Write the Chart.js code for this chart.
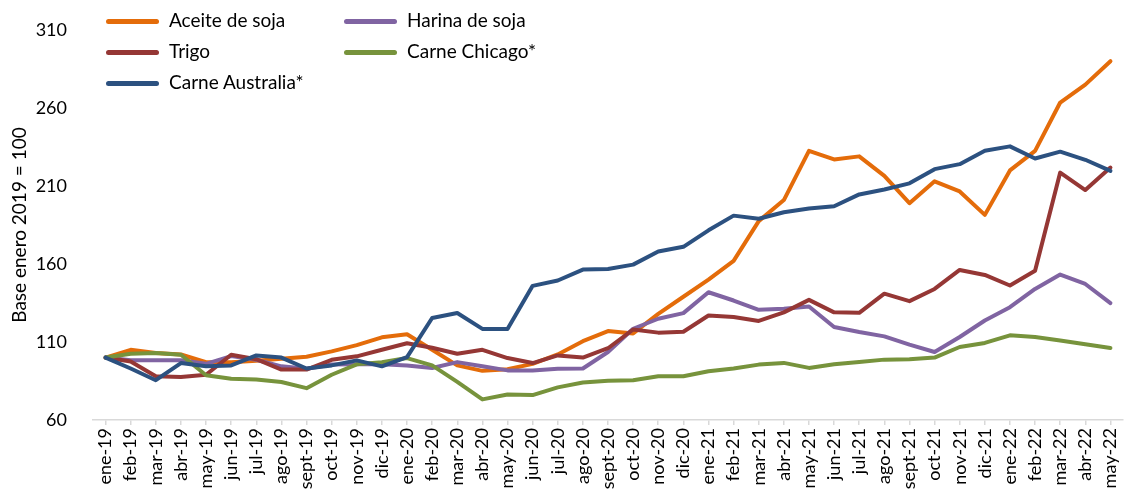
<!DOCTYPE html>
<html lang="es">
<head>
<meta charset="utf-8">
<title>Precios de alimentos</title>
<script src="https://cdn.jsdelivr.net/npm/chart.js@4/dist/chart.umd.min.js"></script>
<style>
  body { margin: 0; background: #fff; }
  #wrap { position: relative; width: 1124px; height: 498px; }
  #chart { position: absolute; left: 0; top: 0; }
  .leg { position: absolute; font-family: Lato, "Noto Sans", sans-serif; font-size: 19px; color: #000; }
  .leg .ln { position: absolute; width: 53px; height: 5px; border-radius: 3px; }
  .leg .tx { position: absolute; white-space: nowrap; line-height: 20px; }
</style>
</head>
<body>
<div id="wrap">
  <canvas id="chart" width="1124" height="498"></canvas>
  <div id="legend"></div>
</div>
<script>
// meses ene-19 .. may-22
const labels = [
  'ene-19', 'feb-19', 'mar-19', 'abr-19', 'may-19', 'jun-19', 'jul-19', 'ago-19', 'sept-19', 'oct-19', 'nov-19', 'dic-19',
  'ene-20', 'feb-20', 'mar-20', 'abr-20', 'may-20', 'jun-20', 'jul-20', 'ago-20', 'sept-20', 'oct-20', 'nov-20', 'dic-20',
  'ene-21', 'feb-21', 'mar-21', 'abr-21', 'may-21', 'jun-21', 'jul-21', 'ago-21', 'sept-21', 'oct-21', 'nov-21', 'dic-21',
  'ene-22', 'feb-22', 'mar-22', 'abr-22', 'may-22'
];

const aceiteSoja = [
  100, 105, 103, 102, 97, 97, 98, 99.3, 100.5, 104, 108, 113,
  115, 105, 95, 91.5, 92.5, 96, 102, 110.5, 117, 115.5, 128, 139,
  150, 162, 187.5, 201, 232.5, 227, 229, 216.5, 199, 213, 206.5, 191.5,
  220, 232.5, 263.5, 275, 290
];
const trigo = [
  100, 97.5, 88, 87.6, 89, 101.8, 99, 92.3, 92.3, 98.6, 100.8, 105,
  109.2, 106.3, 102.5, 105, 99.7, 96.5, 101.4, 100, 106, 118, 116, 116.6,
  127, 126, 123.5, 129, 137, 129, 128.7, 141, 136.2, 144, 156.2, 153,
  146.2, 155.7, 218.6, 207.4, 221.8
];
const carneAustralia = [
  100, 93, 85.5, 96.5, 94.4, 95, 101.4, 100, 93, 95, 98.2, 94.4,
  100.3, 125.4, 128.6, 118.4, 118.4, 146, 149.4, 156.4, 156.8, 159.6, 168, 171,
  181.6, 191, 189, 193.2, 195.6, 197, 204.6, 207.8, 211.7, 220.8, 224, 232.6,
  235.4, 227.6, 232, 226.8, 219.7
];
const harinaSoja = [
  100, 98.3, 98.3, 98.3, 96, 101, 98.6, 94.4, 92.8, 95.6, 95.7, 95.7,
  95, 93.3, 97.1, 94.4, 91.8, 91.8, 92.8, 93, 103.6, 118.5, 124.9, 128.5,
  141.9, 136.6, 130.6, 131.3, 132.8, 119.6, 116.4, 113.6, 108.3, 103.6, 113.2, 123.8,
  132.3, 144, 153.2, 147.2, 134.9
];
const carneChicago = [
  100, 102.5, 103, 101.8, 88.7, 86.5, 86, 84.4, 80.4, 89, 95.7, 97.1,
  99.7, 95, 84.4, 73.2, 76.4, 76, 80.9, 84, 85.1, 85.5, 88, 88,
  91.3, 93, 95.5, 96.6, 93.4, 95.7, 97.2, 98.7, 98.9, 100, 106.8, 109.4,
  114.3, 113.2, 111, 108.5, 106.2
];

const yTicks = [60, 110, 160, 210, 260, 310];

const FONT = 'Lato, "Noto Sans", sans-serif';

const series = [
  { label: 'Aceite de soja', data: aceiteSoja, color: '#E46C0A', order: 5 },
  { label: 'Harina de soja', data: harinaSoja, color: '#8064A2', order: 4 },
  { label: 'Trigo', data: trigo, color: '#953735', order: 3 },
  { label: 'Carne Chicago*', data: carneChicago, color: '#77933C', order: 2 },
  { label: 'Carne Australia*', data: carneAustralia, color: '#2C5180', order: 1 }
];

new Chart(document.getElementById('chart'), {
  type: 'line',
  data: {
    labels: labels,
    datasets: series.map(s => ({
      label: s.label,
      data: s.data,
      borderColor: s.color,
      backgroundColor: s.color,
      borderWidth: 4,
      borderJoinStyle: 'round',
      borderCapStyle: 'round',
      pointRadius: 0,
      tension: 0,
      order: s.order
    }))
  },
  options: {
    responsive: false,
    animation: false,
    layout: { padding: { top: 30, right: 1, left: 0, bottom: 0 } },
    plugins: {
      legend: { display: false },
      tooltip: { enabled: false }
    },
    scales: {
      x: {
        offset: true,
        grid: {
          display: true,
          drawOnChartArea: false,
          drawTicks: true,
          tickLength: 5,
          color: '#d9d9d9',
          lineWidth: 1.5
        },
        border: { display: true, color: '#d9d9d9', width: 1.5 },
        ticks: {
          minRotation: 90,
          maxRotation: 90,
          autoSkip: false,
          padding: 3,
          color: '#000',
          font: { family: FONT, size: 18 }
        },
        afterFit(scale) {
          scale.height = 78;
          scale.paddingLeft = 0;
          scale.paddingRight = 0;
        }
      },
      y: {
        min: 60,
        max: 310,
        afterBuildTicks(scale) { scale.ticks = yTicks.map(v => ({ value: v })); },
        grid: { display: false },
        border: { display: false },
        ticks: {
          padding: 18,
          color: '#000',
          font: { family: FONT, size: 18 }
        },
        title: {
          display: true,
          text: 'Base enero 2019 = 100',
          color: '#000',
          font: { family: FONT, size: 19 },
          padding: { top: 8, bottom: 0 }
        },
        afterFit(scale) { scale.width = 93; }
      }
    }
  }
});

// leyenda en dos columnas, como en el original
const legendPos = [
  { i: 0, x: 106, y: 21 },
  { i: 1, x: 344, y: 21 },
  { i: 2, x: 106, y: 52 },
  { i: 3, x: 344, y: 52 },
  { i: 4, x: 106, y: 83 }
];
const legendEl = document.getElementById('legend');
legendPos.forEach(p => {
  const s = series[p.i];
  const item = document.createElement('div');
  item.className = 'leg';
  item.style.left = p.x + 'px';
  item.style.top = p.y + 'px';
  item.innerHTML = `
    <span class="ln" style="left:0; top:-2.5px; background:${s.color}"></span>
    <span class="tx" style="left:63px; top:-11px">${s.label}</span>`;
  legendEl.appendChild(item);
});
</script>
</body>
</html>
